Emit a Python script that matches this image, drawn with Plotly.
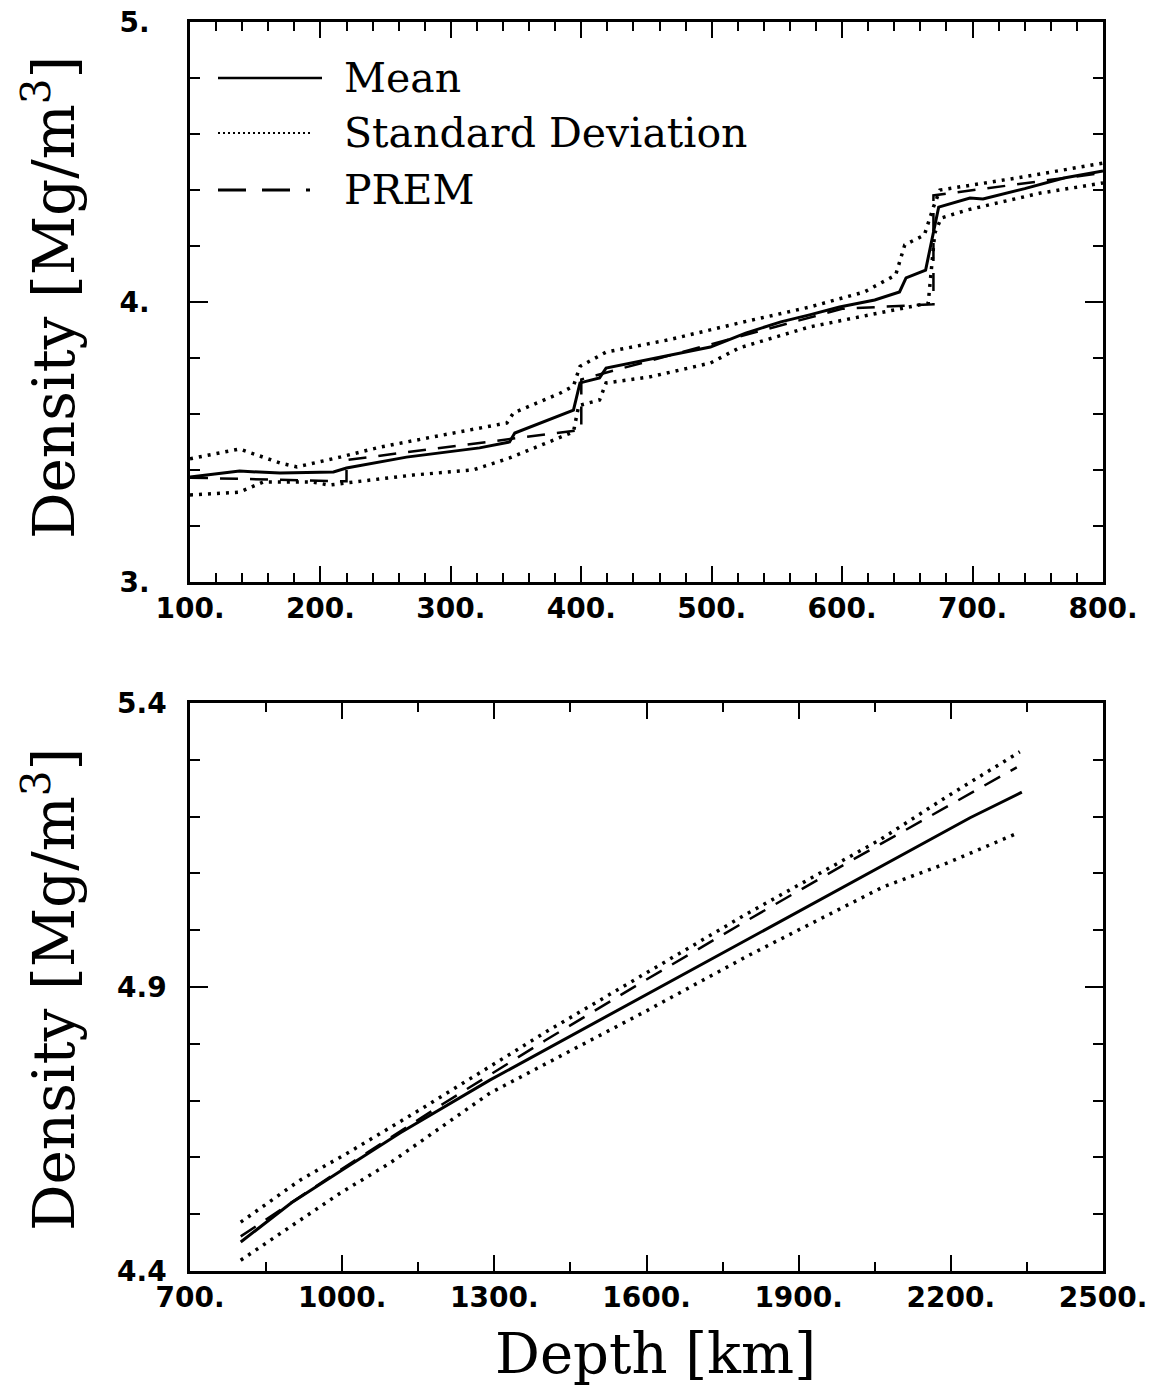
import plotly.graph_objects as go

# ---------------- data ----------------
# upper panel: depth 100-800 km
top_mean_depth = [100, 138, 169, 210, 220, 266, 322, 345, 349, 394, 399, 414, 419, 438, 474, 499,
                  526, 553, 575, 598, 625, 644, 649, 664, 674, 698, 708, 740, 770, 800]
top_mean = [3.375, 3.396, 3.389, 3.393, 3.407, 3.446, 3.479, 3.500, 3.532, 3.614, 3.711, 3.729,
            3.764, 3.782, 3.818, 3.839, 3.889, 3.929, 3.954, 3.982, 4.007, 4.036, 4.086, 4.114,
            4.339, 4.371, 4.368, 4.405, 4.443, 4.468]

top_up_depth = [100, 138, 169, 182, 215, 246, 286, 343, 348, 384, 394, 399, 419, 466, 521, 575,
                617, 641, 648, 663, 670, 675, 734, 800]
top_up = [3.440, 3.475, 3.425, 3.411, 3.446, 3.482, 3.518, 3.568, 3.604, 3.675, 3.700, 3.770,
          3.821, 3.864, 3.925, 3.982, 4.036, 4.096, 4.204, 4.239, 4.339, 4.400, 4.443, 4.496]

top_lo_depth = [100, 138, 156, 194, 207, 220, 271, 317, 345, 394, 398, 414, 419, 452, 499, 521,
                575, 630, 666, 671, 676, 696, 752, 800]
top_lo = [3.311, 3.321, 3.357, 3.357, 3.346, 3.354, 3.382, 3.400, 3.443, 3.536, 3.630, 3.650,
          3.711, 3.732, 3.782, 3.836, 3.911, 3.961, 3.996, 4.246, 4.300, 4.329, 4.389, 4.425]

top_prem_depth = [100, 220, 220, 400, 400, 600, 670, 670, 771, 800]
top_prem = [3.3725, 3.3595, 3.4358, 3.5433, 3.7238, 3.9758, 3.9921, 4.3807, 4.4432, 4.4609]

# lower panel: depth 800-2350 km
bot_mean_depth = [800, 900, 1000, 1114, 1291, 1600, 1800, 2060, 2238, 2340]
bot_mean = [4.451, 4.520, 4.578, 4.643, 4.736, 4.887, 4.985, 5.111, 5.198, 5.243]

bot_up_depth = [800, 917, 1015, 1159, 1400, 1600, 1800, 2060, 2192, 2336]
bot_up = [4.486, 4.560, 4.610, 4.687, 4.820, 4.925, 5.030, 5.159, 5.235, 5.314]

bot_lo_depth = [800, 897, 996, 1094, 1291, 1600, 1800, 2066, 2192, 2332]
bot_lo = [4.419, 4.477, 4.537, 4.590, 4.713, 4.858, 4.955, 5.076, 5.118, 5.171]

bot_prem_depth = [800, 1000, 1200, 1400, 1600, 1800, 2000, 2200, 2330]
bot_prem = [4.4609, 4.5801, 4.6948, 4.8057, 4.9132, 5.0180, 5.1207, 5.2217, 5.2868]

top_xticks = [100, 200, 300, 400, 500, 600, 700, 800]
top_xlabels = ["100.", "200.", "300.", "400.", "500.", "600.", "700.", "800."]
top_yticks = [3, 4, 5]
top_ylabels = ["3.", "4.", "5."]
bot_xticks = [700, 1000, 1300, 1600, 1900, 2200, 2500]
bot_xlabels = ["700.", "1000.", "1300.", "1600.", "1900.", "2200.", "2500."]
bot_yticks = [4.4, 4.9, 5.4]
bot_ylabels = ["4.4", "4.9", "5.4"]

legend_names = ["Mean", "Standard Deviation", "PREM"]

# ---------------- figure ----------------
W, H = 1149, 1391
BLACK = "black"
SOLID = dict(color=BLACK, width=3)
DOT = dict(color=BLACK, width=3.5, dash="3px,6px")
DASH = dict(color=BLACK, width=2.5, dash="18px,12px")

fig = go.Figure()

def add(x, y, line, xa, ya):
    fig.add_trace(go.Scatter(x=x, y=y, mode="lines", line=line, xaxis=xa, yaxis=ya,
                             showlegend=False, hoverinfo="skip"))

add(top_prem_depth, top_prem, DASH, "x", "y")
add(top_up_depth, top_up, DOT, "x", "y")
add(top_lo_depth, top_lo, DOT, "x", "y")
add(top_mean_depth, top_mean, SOLID, "x", "y")

add(bot_prem_depth, bot_prem, DASH, "x2", "y2")
add(bot_up_depth, bot_up, DOT, "x2", "y2")
add(bot_lo_depth, bot_lo, DOT, "x2", "y2")
add(bot_mean_depth, bot_mean, SOLID, "x2", "y2")

tickfont = dict(family="DejaVu Sans", size=28, color=BLACK, weight="bold")

def axis(rng, domain, tv, tt, minor_dt, minor_t0, anchor, major_len, minor_len, standoff):
    return dict(range=rng, domain=domain, anchor=anchor, autorange=False, automargin=False,
                tickvals=tv, ticktext=tt, ticks="inside", ticklen=major_len, tickwidth=2,
                tickcolor=BLACK, showline=True, linecolor=BLACK, linewidth=2.5,
                mirror="allticks", showgrid=False, zeroline=False, tickfont=tickfont,
                ticklabelstandoff=standoff,
                minor=dict(ticks="inside", dtick=minor_dt, tick0=minor_t0, ticklen=minor_len,
                           tickwidth=1.6, tickcolor=BLACK, showgrid=False))

xdom = [190 / W, 1103 / W]
top_dom = [1 - 582 / H, 1 - 22 / H]
bot_dom = [1 - 1271 / H, 1 - 703 / H]

fig.update_layout(
    width=W, height=H,
    margin=dict(l=0, r=0, t=0, b=0, autoexpand=False),
    paper_bgcolor="white", plot_bgcolor="white",
    showlegend=False,
    xaxis=axis([100, 800], xdom, top_xticks, top_xlabels, 20, 100, "y", 16, 9, 0),
    yaxis=axis([3, 5], top_dom, top_yticks, top_ylabels, 0.2, 3, "x", 18, 10, 32),
    xaxis2=axis([700, 2500], xdom, bot_xticks, bot_xlabels, 150, 700, "y2", 16, 9, 0),
    yaxis2=axis([4.4, 5.4], bot_dom, bot_yticks, bot_ylabels, 0.1, 4.4, "x2", 18, 10, 15),
)

titlefont = dict(family="DejaVu Serif", size=58, color=BLACK)
fig.add_annotation(text="Density [Mg/m<sup>3</sup>]", x=50 / W, y=1 - 298 / H, xref="paper",
                   yref="paper", textangle=-90, showarrow=False, font=titlefont,
                   xanchor="center", yanchor="middle")
fig.add_annotation(text="Density [Mg/m<sup>3</sup>]", x=50 / W, y=1 - 990 / H, xref="paper",
                   yref="paper", textangle=-90, showarrow=False, font=titlefont,
                   xanchor="center", yanchor="middle")
fig.add_annotation(text="Depth [km]", x=655 / W, y=1 - 1353 / H, xref="paper", yref="paper",
                   showarrow=False, font=dict(family="DejaVu Serif", size=56, color=BLACK),
                   xanchor="center", yanchor="middle")

# legend (drawn in the upper panel)
leg_rows = [78, 133, 190]
leg_styles = [dict(color=BLACK, width=2.5), dict(color=BLACK, width=2, dash="2px,3px"),
              dict(color=BLACK, width=3, dash="28px,16px")]
leg_x1 = [322, 310, 310]
for name, row, st, x1 in zip(legend_names, leg_rows, leg_styles, leg_x1):
    fig.add_shape(type="line", xref="paper", yref="paper", x0=218 / W, x1=x1 / W,
                  y0=1 - row / H, y1=1 - row / H, line=st)
    fig.add_annotation(text=name, x=342 / W, y=1 - row / H, xref="paper", yref="paper",
                       showarrow=False, xanchor="left", yanchor="middle",
                       font=dict(family="DejaVu Serif", size=41, color=BLACK))

fig.write_html("out.html")
